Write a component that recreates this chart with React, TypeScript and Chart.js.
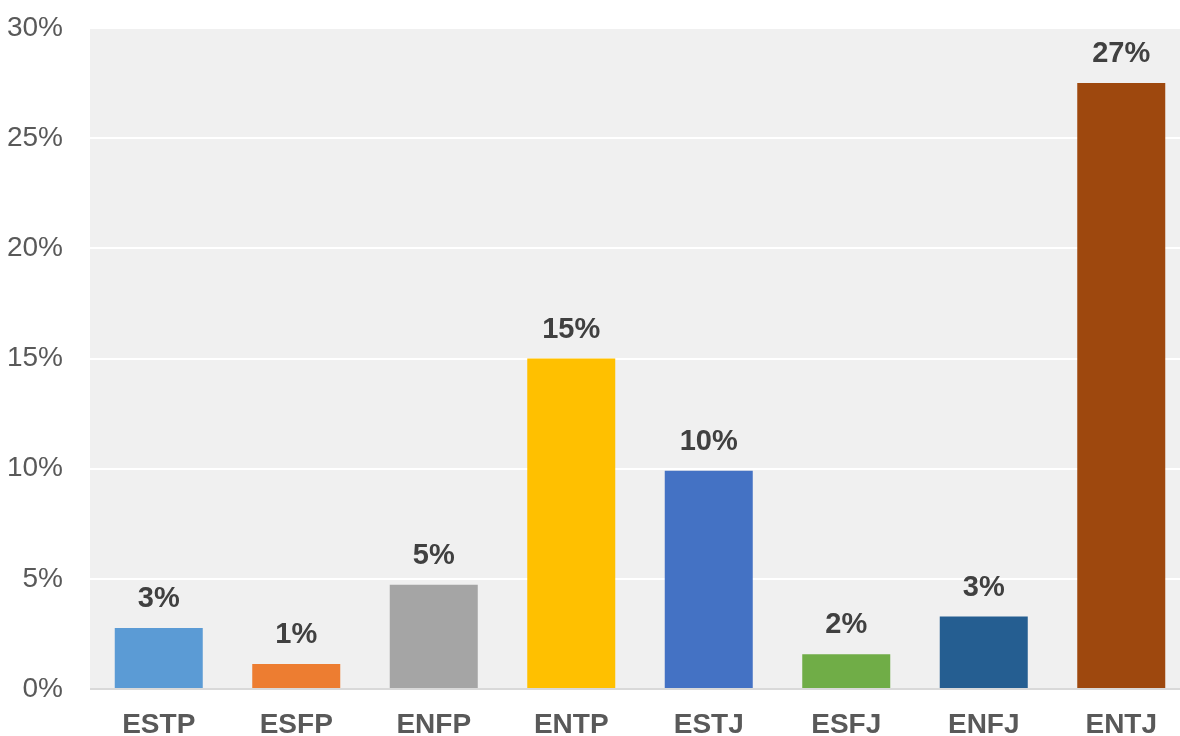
import React, { useEffect, useRef } from "react";
import { Chart, registerables } from "chart.js";

Chart.register(...registerables);

const categories = ["ESTP", "ESFP", "ENFP", "ENTP", "ESTJ", "ESFJ", "ENFJ", "ENTJ"];
const values = [2.77, 1.14, 4.73, 15.0, 9.9, 1.58, 3.29, 27.5];
const valueLabels = ["3%", "1%", "5%", "15%", "10%", "2%", "3%", "27%"];
const barColors = ["#5b9bd5", "#ed7d31", "#a5a5a5", "#ffc000", "#4472c4", "#70ad47", "#255e91", "#9e480e"];
const yTicks = [0, 5, 10, 15, 20, 25, 30];

const FONT = "'Liberation Sans', Arial, Helvetica, sans-serif";

const bgPlugin = {
  id: "plotBg",
  beforeDraw(chart: any) {
    const { ctx, chartArea } = chart;
    ctx.save();
    ctx.fillStyle = "#f0f0f0";
    ctx.fillRect(chartArea.left, chartArea.top, chartArea.right - chartArea.left, chartArea.bottom - chartArea.top);
    ctx.restore();
  },
};

const labelPlugin = {
  id: "valueLabels",
  afterDatasetsDraw(chart: any) {
    const { ctx } = chart;
    const meta = chart.getDatasetMeta(0);
    ctx.save();
    ctx.font = `bold 29px ${FONT}`;
    ctx.fillStyle = "#404040";
    ctx.textAlign = "center";
    ctx.textBaseline = "middle";
    meta.data.forEach((bar: any, i: number) => {
      ctx.fillText(valueLabels[i], bar.x, bar.y - 29);
    });
    ctx.restore();
  },
};

export default function App() {
  const ref = useRef<HTMLCanvasElement>(null);
  useEffect(() => {
    document.body.style.margin = "0";
    const chart = new Chart(ref.current!, {
      type: "bar",
      data: {
        labels: categories,
        datasets: [
          {
            data: values,
            backgroundColor: barColors,
            borderWidth: 0,
            categoryPercentage: 0.64,
            barPercentage: 1,
          },
        ],
      },
      options: {
        animation: false,
        responsive: false,
        layout: { padding: { top: 28, right: 0, left: 0, bottom: 0 } },
        plugins: { legend: { display: false }, tooltip: { enabled: false } },
        scales: {
          x: {
            grid: { display: false, drawTicks: false },
            border: { display: false },
            ticks: {
              color: "#595959",
              font: { family: FONT, size: 28, weight: "bold" },
              padding: 19,
            },
            afterFit(scale: any) {
              scale.height = 47;
              scale.paddingLeft = 0;
              scale.paddingRight = 0;
            },
          },
          y: {
            min: 0,
            max: 30,
            afterBuildTicks(scale: any) {
              scale.ticks = yTicks.map((v) => ({ value: v }));
            },
            grid: {
              color: (c: any) => (c.tick && c.tick.value === 0 ? "#d9d9d9" : "#ffffff"),
              lineWidth: 2,
              drawTicks: false,
            },
            border: { display: false },
            ticks: {
              color: "#595959",
              font: { family: FONT, size: 28 },
              padding: 27,
              callback: (v: any) => v + "%",
            },
            afterFit(scale: any) {
              scale.width = 90;
              scale.paddingTop = 0;
              scale.paddingBottom = 0;
            },
          },
        },
      },
      plugins: [bgPlugin, labelPlugin],
    });
    return () => chart.destroy();
  }, []);
  return (
    <div style={{ width: 1180, height: 736, overflow: "hidden" }}>
      <canvas ref={ref} width={1190} height={736} style={{ display: "block" }} />
    </div>
  );
}
